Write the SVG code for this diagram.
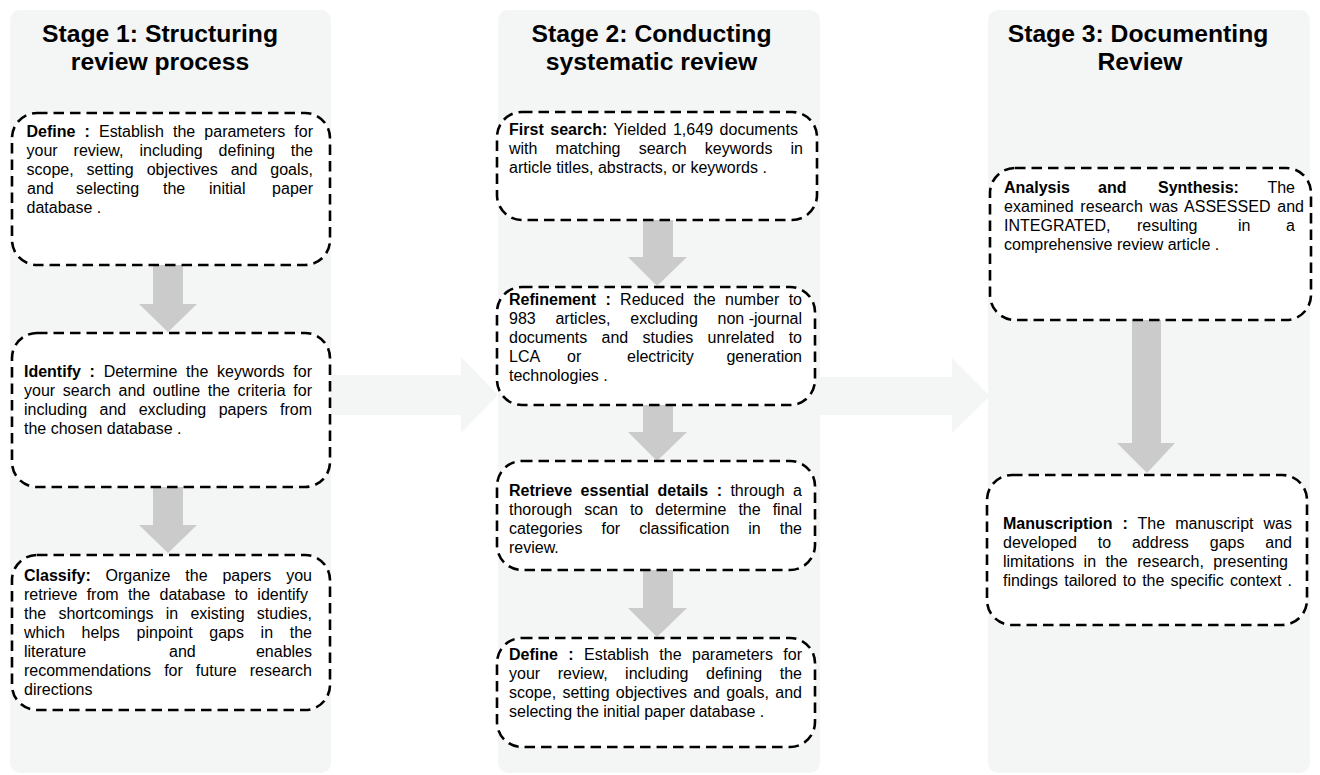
<svg xmlns="http://www.w3.org/2000/svg" width="1320" height="775" viewBox="0 0 1320 775">
<style>
.col{fill:#f4f5f5}
.box{fill:#fff;stroke:#000;stroke-width:2.6;stroke-dasharray:10.5 6}
.t{font-family:"Liberation Sans",Arial,sans-serif;font-size:16px;fill:#000}
.b{font-weight:bold}
.h{font-family:"Liberation Sans",Arial,sans-serif;font-size:24.7px;font-weight:bold;text-anchor:middle;fill:#000}
.arr{fill:#cbcbcb}
.harr{fill:#f4f5f5}
.e{text-anchor:end}
</style>
<rect width="1320" height="775" fill="#fff"/>
<g id="columns">
<g id="stage1">
<rect class="col" x="10" y="10" width="321" height="763" rx="10"/>
<text class="h" x="160" y="42">Stage 1: Structuring</text>
<text class="h" x="160" y="70">review process</text>
</g>
<g id="stage2">
<rect class="col" x="498" y="10" width="322" height="763" rx="10"/>
<text class="h" x="651.5" y="42">Stage 2: Conducting</text>
<text class="h" x="651.5" y="70">systematic review</text>
</g>
<g id="stage3">
<rect class="col" x="988" y="10" width="322" height="763" rx="10"/>
<text class="h" x="1138" y="42">Stage 3: Documenting</text>
<text class="h" x="1140" y="70">Review</text>
</g>
</g>
<g id="connectors">
<polygon class="harr" points="331,375 461,375 461,357 498,395 461,433 461,415 331,415"/>
<polygon class="harr" points="820,377 952,377 952,358 990,396 952,433 952,415 820,415"/>
<polygon class="arr" points="153,265 183,265 183,304 197,304 168,332 139,304 153,304"/>
<polygon class="arr" points="153,487 183,487 183,525 197,525 168,553 139,525 153,525"/>
<polygon class="arr" points="643,220 673,220 673,257 687,257 657,286 628,257 643,257"/>
<polygon class="arr" points="643,405 673,405 673,432 687,432 657,461 628,432 643,432"/>
<polygon class="arr" points="643,570 673,570 673,608 687,608 657,637 628,608 643,608"/>
<polygon class="arr" points="1132,320 1161,320 1161,443 1175,443 1147,473 1117,443 1132,443"/>
</g>
<g id="s1-define">
<rect class="box" x="12" y="113" width="318" height="152" rx="25"/>
<text class="t" x="26.5" y="137" word-spacing="4.7" textLength="286.5" lengthAdjust="spacing"><tspan class="b">Define :</tspan> Establish the parameters for</text>
<text class="t" x="26.5" y="156" word-spacing="11.4" textLength="286.5" lengthAdjust="spacing">your review, including defining the</text>
<text class="t" x="26.5" y="175" word-spacing="8.5" textLength="286.5" lengthAdjust="spacing">scope, setting objectives and goals,</text>
<text class="t" y="194"><tspan x="27">and</tspan><tspan x="76">selecting</tspan><tspan x="163">the</tspan><tspan x="209">initial</tspan></text>
<text class="t e" x="313" y="194">paper</text>
<text class="t" x="26.5" y="213">database .</text>
</g>
<g id="s1-identify">
<rect class="box" x="12" y="333" width="318" height="154" rx="25"/>
<text class="t" x="24" y="377" word-spacing="4.3" textLength="288" lengthAdjust="spacing"><tspan class="b">Identify :</tspan> Determine the keywords for</text>
<text class="t" x="24" y="396" word-spacing="3.2" textLength="288" lengthAdjust="spacing">your search and outline the criteria for</text>
<text class="t" x="24" y="415" word-spacing="8" textLength="288" lengthAdjust="spacing">including and excluding papers from</text>
<text class="t" x="24" y="434">the chosen database .</text>
</g>
<g id="s1-classify">
<rect class="box" x="12" y="555" width="318" height="155" rx="25"/>
<text class="t" x="24" y="580.5" word-spacing="10.4" textLength="288" lengthAdjust="spacing"><tspan class="b">Classify:</tspan> Organize the papers you</text>
<text class="t" x="24" y="599.5" word-spacing="4.9" textLength="284" lengthAdjust="spacing">retrieve from the database to identify</text>
<text class="t" x="24" y="618.5" word-spacing="7.7" textLength="288" lengthAdjust="spacing">the shortcomings in existing studies,</text>
<text class="t" x="24" y="637.5" word-spacing="12.2" textLength="288" lengthAdjust="spacing">which helps pinpoint gaps in the</text>
<text class="t" y="656.5"><tspan x="24">literature</tspan><tspan x="169">and</tspan></text>
<text class="t e" x="312" y="656.5">enables</text>
<text class="t" x="24" y="675.5" word-spacing="8.6" textLength="288" lengthAdjust="spacing">recommendations for future research</text>
<text class="t" x="24" y="694.5">directions</text>
</g>
<g id="s2-first-search">
<rect class="box" x="497" y="112" width="320" height="108" rx="25"/>
<text class="t" x="509" y="135" word-spacing="2" textLength="289" lengthAdjust="spacing"><tspan class="b">First search:</tspan> Yielded 1,649 documents</text>
<text class="t" x="509" y="154" word-spacing="13.7" textLength="294" lengthAdjust="spacing">with matching search keywords in</text>
<text class="t" x="509" y="173">article titles, abstracts, or keywords .</text>
</g>
<g id="s2-refinement">
<rect class="box" x="497" y="287" width="318" height="118" rx="25"/>
<text class="t" x="509" y="305" word-spacing="4.9" textLength="293" lengthAdjust="spacing"><tspan class="b">Refinement :</tspan> Reduced the number to</text>
<text class="t" x="509" y="324" word-spacing="15.3" textLength="293" lengthAdjust="spacing">983 articles, excluding <tspan word-spacing="0">non -journal</tspan></text>
<text class="t" x="509" y="343" word-spacing="9.9" textLength="293" lengthAdjust="spacing">documents and studies unrelated to</text>
<text class="t" y="362"><tspan x="509">LCA</tspan><tspan x="567">or</tspan><tspan x="627">electricity</tspan></text>
<text class="t e" x="802" y="362">generation</text>
<text class="t" x="509" y="381">technologies .</text>
</g>
<g id="s2-retrieve">
<rect class="box" x="497" y="461" width="318" height="109" rx="25"/>
<text class="t" x="509" y="496" word-spacing="4" textLength="293" lengthAdjust="spacing"><tspan class="b">Retrieve essential details :</tspan> through a</text>
<text class="t" x="509" y="515" word-spacing="7.6" textLength="293" lengthAdjust="spacing">thorough scan to determine the final</text>
<text class="t" x="509" y="534" word-spacing="14.7" textLength="293" lengthAdjust="spacing">categories for classification in the</text>
<text class="t" x="509" y="553">review.</text>
</g>
<g id="s2-define">
<rect class="box" x="497" y="638" width="318" height="109" rx="25"/>
<text class="t" x="509" y="659.5" word-spacing="6" textLength="293" lengthAdjust="spacing"><tspan class="b">Define :</tspan> Establish the parameters for</text>
<text class="t" x="509" y="678.5" word-spacing="13" textLength="293" lengthAdjust="spacing">your review, including defining the</text>
<text class="t" x="509" y="697.5" word-spacing="1.9" textLength="293" lengthAdjust="spacing">scope, setting objectives and goals, and</text>
<text class="t" x="509" y="716.5">selecting the initial paper database .</text>
</g>
<g id="s3-analysis">
<rect class="box" x="990" y="168" width="321" height="152" rx="25"/>
<text class="t b" y="192.5"><tspan x="1004">Analysis</tspan><tspan x="1098">and</tspan><tspan x="1158">Synthesis:</tspan></text>
<text class="t e" x="1295" y="192.5">The</text>
<text class="t" x="1004" y="211.5" word-spacing="2.3" textLength="300" lengthAdjust="spacing">examined research was ASSESSED and</text>
<text class="t" y="230.5"><tspan x="1004">INTEGRATED,</tspan><tspan x="1137">resulting</tspan><tspan x="1238">in</tspan></text>
<text class="t e" x="1295" y="230.5">a</text>
<text class="t" x="1004" y="249.5">comprehensive review article .</text>
</g>
<g id="s3-manuscription">
<rect class="box" x="987" y="475" width="320" height="150" rx="25"/>
<text class="t" x="1003" y="529" word-spacing="5.6" textLength="289" lengthAdjust="spacing"><tspan class="b">Manuscription :</tspan> The manuscript was</text>
<text class="t" x="1003" y="548" word-spacing="16.4" textLength="289" lengthAdjust="spacing">developed to address gaps and</text>
<text class="t" x="1003" y="567" word-spacing="5" textLength="285" lengthAdjust="spacing">limitations in the research, presenting</text>
<text class="t" x="1003" y="586" word-spacing="1.7" textLength="289" lengthAdjust="spacing">findings tailored to the specific context .</text>
</g>
</svg>
